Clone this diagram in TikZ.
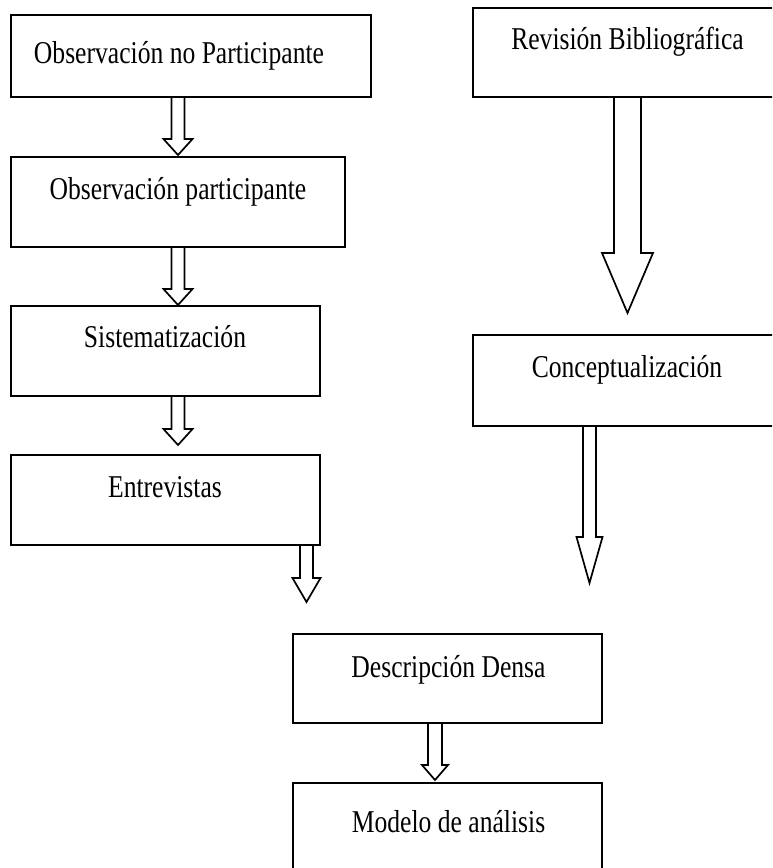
\documentclass[tikz,border=0pt]{standalone}
\usepackage{fontspec}
\setmainfont{Liberation Serif}
\usetikzlibrary{calc}
\tikzset{
  box/.style={draw, line width=2pt, inner sep=0pt, rectangle},
  lbl/.style={anchor=base, inner sep=0pt, font=\fontsize{25.6}{30}\selectfont},
  barrow/.style={draw, line width=1.7pt, line join=miter},
}
\newcommand\lbltext[1]{\scalebox{1}[1.24]{#1}}
% #1 start node, #2 tip coordinate, #3 shaft half width, #4 head half width, #5 head length
\newcommand\blockarr[5]{%
  \draw[barrow] let \p1=(#1.south -| #2), \p2=(#2) in
    (\x1-#3pt,\y1) -- (\x1-#3pt,\y2+#5pt) -- (\x1-#4pt,\y2+#5pt) -- (\x2,\y2)
    -- (\x1+#4pt,\y2+#5pt) -- (\x1+#3pt,\y2+#5pt) -- (\x1+#3pt,\y1);}
\begin{document}
\begin{tikzpicture}[x=1pt,y=-1pt]
\useasboundingbox (0,0) rectangle (772,868);
\clip (0,0) rectangle (772,868);
% boxes
\node[box, minimum width=360pt, minimum height=82pt] (b1) at (191,56) {};
\node[box, minimum width=308pt, minimum height=89pt] (b2) at (627,52.5) {};
\node[box, minimum width=334pt, minimum height=90pt] (b3) at (178,202) {};
\node[box, minimum width=309pt, minimum height=90pt] (b4) at (165.5,351) {};
\node[box, minimum width=309pt, minimum height=90pt] (b5) at (165.5,500) {};
\node[box, minimum width=308pt, minimum height=91pt] (b6) at (627,380.5) {};
\node[box, minimum width=309pt, minimum height=89pt] (b7) at (447.5,678.5) {};
\node[box, minimum width=309pt, minimum height=97pt] (b8) at (447.5,831.5) {};
% labels
\node[lbl] (l1) at (179,63) {\lbltext{Observación no Participante}};
\node[lbl] (l2) at (627.5,49) {\lbltext{Revisión Bibliográfica}};
\node[lbl] (l3) at (178,199) {\lbltext{Observación participante}};
\node[lbl] (l4) at (165,347) {\lbltext{Sistematización}};
\node[lbl] (l5) at (165,497) {\lbltext{Entrevistas}};
\node[lbl] (l6) at (627,377) {\lbltext{Conceptualización}};
\node[lbl] (l7) at (448.5,677) {\lbltext{Descripción Densa}};
\node[lbl] (l8) at (448.5,832) {\lbltext{Modelo de análisis}};
% arrow tips
\coordinate (t1) at (178,155);
\coordinate (t2) at (178,305);
\coordinate (t3) at (178,445);
\coordinate (t4) at (306.5,602);
\coordinate (t5) at (627.5,313);
\coordinate (t6) at (589.5,583);
\coordinate (t7) at (435,780);
% block arrows
\blockarr{b1}{t1}{6.5}{14.5}{16}
\blockarr{b3}{t2}{6.5}{14.5}{16}
\blockarr{b4}{t3}{6.5}{14.5}{16}
\blockarr{b5}{t4}{6.5}{14}{24}
\blockarr{b2}{t5}{13.5}{25.5}{60}
\blockarr{b6}{t6}{6.5}{13}{46}
\blockarr{b7}{t7}{7}{13}{15}
\end{tikzpicture}
\end{document}
